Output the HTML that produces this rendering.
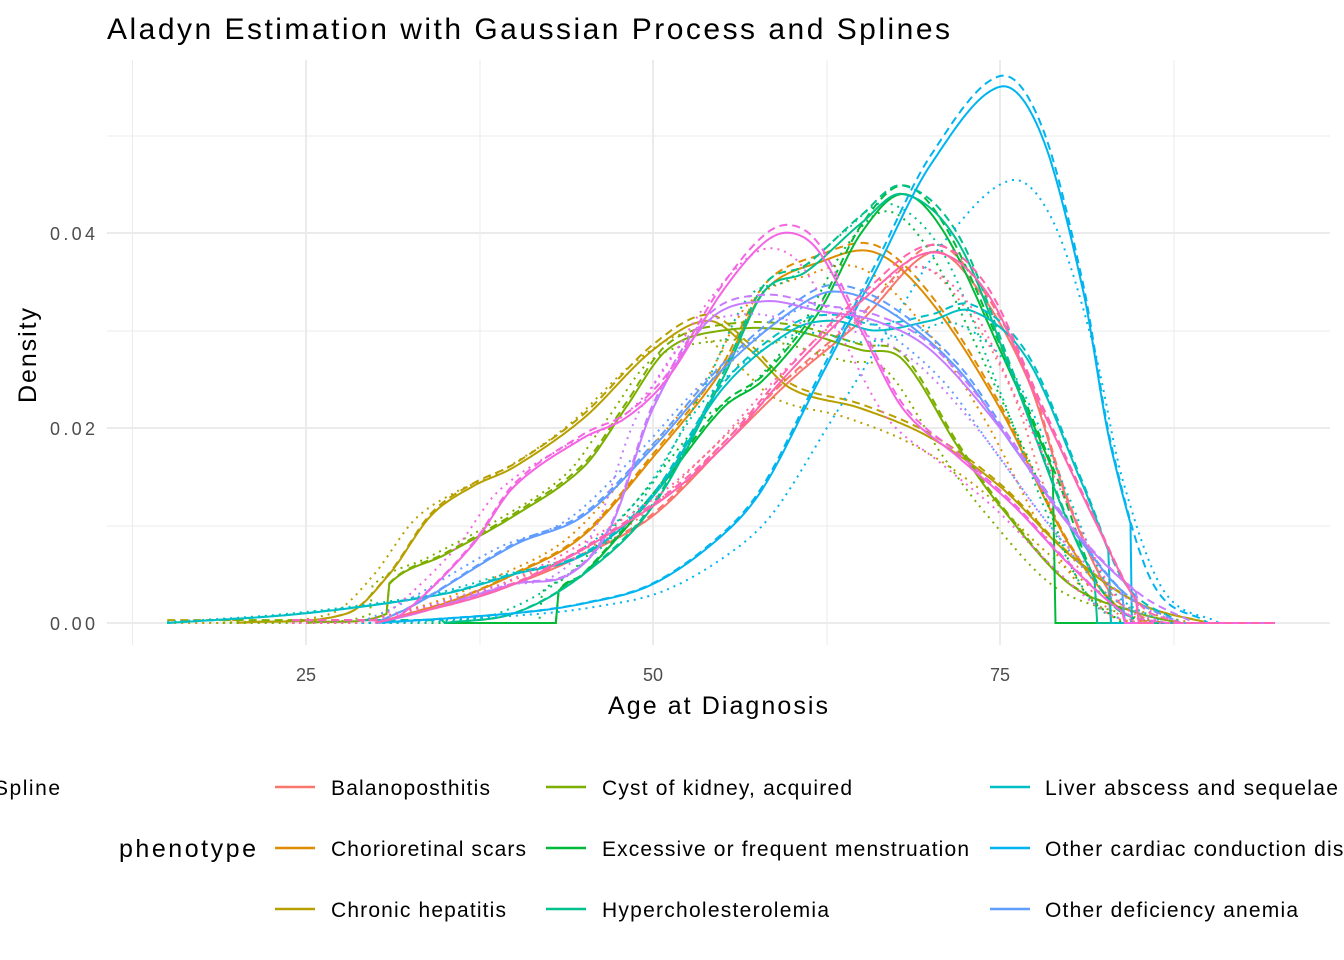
<!DOCTYPE html>
<html><head><meta charset="utf-8"><style>
html,body{margin:0;padding:0;background:#fff;}
svg{display:block;font-family:"Liberation Sans",Arial,sans-serif;}
</style></head><body>
<svg id="s" width="1344" height="960" viewBox="0 0 1344 960" xmlns="http://www.w3.org/2000/svg">
<rect width="1344" height="960" fill="#fff"/>
<g stroke="#ebebeb" stroke-width="1">
<line x1="107" x2="1330" y1="526" y2="526"/><line x1="107" x2="1330" y1="331" y2="331"/><line x1="107" x2="1330" y1="136" y2="136"/>
<line x1="132.5" x2="132.5" y1="60" y2="645"/><line x1="480" x2="480" y1="60" y2="645"/><line x1="827" x2="827" y1="60" y2="645"/><line x1="1174" x2="1174" y1="60" y2="645"/>
</g>
<g stroke="#ebebeb" stroke-width="2">
<line x1="107" x2="1330" y1="623" y2="623"/><line x1="107" x2="1330" y1="428" y2="428"/><line x1="107" x2="1330" y1="233" y2="233"/>
<line x1="306" x2="306" y1="60" y2="645"/><line x1="653" x2="653" y1="60" y2="645"/><line x1="1000" x2="1000" y1="60" y2="645"/>
</g>
<g id="curves" fill="none" stroke-width="2"></g>
<g font-size="18" fill="#4d4d4d" text-anchor="end">
<text x="95" y="630" textLength="45">0.00</text><text x="95" y="435" textLength="45">0.02</text><text x="95" y="240" textLength="45">0.04</text>
</g>
<g font-size="18" fill="#4d4d4d" text-anchor="middle">
<text x="306" y="681">25</text><text x="653" y="681">50</text><text x="1000" y="681">75</text>
</g>
<text x="608" y="714" font-size="25" textLength="220">Age at Diagnosis</text>
<text transform="translate(36,403) rotate(-90)" font-size="25" textLength="95">Density</text>
<text x="107" y="39" font-size="30" textLength="843">Aladyn Estimation with Gaussian Process and Splines</text>
<text x="-6" y="795" font-size="21" textLength="66">Spline</text>
<text x="119" y="857" font-size="25" textLength="137">phenotype</text>
<g stroke-width="2.5">
<line x1="275" x2="315" y1="787" y2="787" stroke="#F8766D"/>
<line x1="275" x2="315" y1="848" y2="848" stroke="#DE8C00"/>
<line x1="275" x2="315" y1="909" y2="909" stroke="#B79F00"/>
<line x1="546" x2="586" y1="787" y2="787" stroke="#7CAE00"/>
<line x1="546" x2="586" y1="848" y2="848" stroke="#00BA38"/>
<line x1="546" x2="586" y1="909" y2="909" stroke="#00C08B"/>
<line x1="990" x2="1030" y1="787" y2="787" stroke="#00BFC4"/>
<line x1="990" x2="1030" y1="848" y2="848" stroke="#00B4F0"/>
<line x1="990" x2="1030" y1="909" y2="909" stroke="#619CFF"/>
</g>
<g font-size="21">
<text x="331" y="795" textLength="159">Balanoposthitis</text>
<text x="331" y="856" textLength="195">Chorioretinal scars</text>
<text x="331" y="917" textLength="175">Chronic hepatitis</text>
<text x="602" y="795" textLength="250">Cyst of kidney, acquired</text>
<text x="602" y="856" textLength="367">Excessive or frequent menstruation</text>
<text x="602" y="917" textLength="227">Hypercholesterolemia</text>
<text x="1045" y="795" textLength="545">Liver abscess and sequelae of chronic liver disease</text>
<text x="1045" y="856" textLength="365">Other cardiac conduction disorders</text>
<text x="1045" y="917" textLength="253">Other deficiency anemia</text>
</g>
</svg>
<script>
var X=function(a){return 306+(a-25)*13.88;},Y=function(d){return 623-d*9750;};
var S=[
["#F8766D",[[30,0],[35,.002],[40,.004],[45,.007],[50,.011],[55,.018],[60,.025],[65,.031],[70,.038],[73,.035],[77,.025],[80,.012],[83,.003],[86,0]],83,1,1.2],
["#DE8C00",[[30,0],[35,.002],[40,.005],[45,.009],[50,.017],[55,.026],[58,.034],[62,.037],[66,.038],[70,.033],[75,.022],[80,.008],[84,.001],[87,0]],84,1,1.2],
["#B79F00",[[20,0],[28,.001],[31,.005],[34,.011],[37,.014],[40,.016],[45,.021],[50,.028],[54,.031],[57,.028],[60,.024],[65,.022],[70,.019],[75,.014],[80,.007],[85,.002],[90,0]],90,1,1.2],
["#7CAE00",[[25,0],[30.9,.001],[31,.004],[35,.007],[40,.011],[45,.016],[48,.022],[51,.028],[55,.03],[60,.03],[65,.028],[68,.027],[72,.018],[75,.012],[80,.004],[85,.001],[88,0]],88,1,1.2],
["#00BA38",[[35,0],[43,0],[43.1,.003],[45,.005],[50,.013],[55,.022],[58,.025],[62,.032],[65,.04],[68,.044],[71,.04],[75,.028],[79,.015],[82,.004],[85,0]],79,1,1.2],
["#00C08B",[[35,0],[40,.001],[45,.005],[50,.012],[55,.025],[58,.034],[61,.036],[65,.041],[68,.044],[72,.039],[76,.025],[80,.01],[83,.002],[86,0]],82,1.02,1.2],
["#00BFC4",[[15,0],[25,.001],[35,.003],[40,.005],[45,.007],[50,.013],[55,.024],[60,.03],[63,.031],[66,.03],[70,.031],[73,.032],[77,.027],[81,.014],[84,.004],[88,0]],83,1,1.2],
["#00B4F0",[[30,0],[40,.001],[45,.002],[50,.004],[55,.009],[58,.014],[62,.025],[66,.036],[70,.047],[75,.055],[78,.05],[81,.034],[83,.018],[86,.004],[90,0]],84.5,.86,-0.8],
["#619CFF",[[30,0],[33,.002],[40,.008],[45,.011],[50,.018],[55,.026],[60,.032],[63,.034],[67,.032],[72,.026],[76,.018],[80,.01],[84,.003],[88,0]],84,1,1.2],
["#C77CFF",[[30,0],[33,.001],[40,.004],[44,.005],[47,.01],[50,.022],[54,.031],[58,.033],[62,.032],[66,.031],[70,.028],[75,.02],[80,.01],[85,.003],[89,0]],85,1,1.2],
["#F564E3",[[30,0],[32,.001],[37,.008],[40,.014],[45,.019],[48,.021],[51,.025],[55,.034],[58,.039],[60,.04],[62,.038],[65,.03],[68,.022],[72,.017],[76,.012],[80,.006],[84,.001],[87,0]],84,1,1.2],
["#FF64B0",[[30,0],[40,.004],[50,.012],[55,.018],[60,.026],[65,.033],[70,.038],[74,.034],[78,.022],[82,.01],[85,.002],[88,0]],85,1,1.2]];
function interp(P,x){
 if(x<=P[0][0])return 0; if(x>=P[P.length-1][0])return 0;
 for(var i=0;i<P.length-1;i++){if(x<=P[i+1][0]){
  var p0=P[Math.max(0,i-1)],p1=P[i],p2=P[i+1],p3=P[Math.min(P.length-1,i+2)];
  var h=p2[0]-p1[0],t=(x-p1[0])/h;
  var m1=(p2[1]-p0[1])/(p2[0]-p0[0]||1)*h,m2=(p3[1]-p1[1])/(p3[0]-p1[0]||1)*h;
  if(p2[0]-p1[0]<0.5){m1=0;m2=0;}
  var t2=t*t,t3=t2*t;
  var v=(2*t3-3*t2+1)*p1[1]+(t3-2*t2+t)*m1+(-2*t3+3*t2)*p2[1]+(t3-t2)*m2;
  return Math.max(0,v);}}
 return 0;}
var g=document.getElementById('curves'),h='';
S.forEach(function(s){
 var P=s[1],a=P[0][0],e=s[2],p='',q='',r='';
 for(var x=a;x<=e;x+=0.2){p+=(p?'L':'M')+X(x).toFixed(1)+','+Y(interp(P,x)).toFixed(1);}
 p+='L'+X(e).toFixed(1)+','+Y(0)+'L'+X(Math.max(e+1,86)).toFixed(1)+','+Y(0);
 var lo=Math.max(15,a-6);
 for(var x=lo;x<=95;x+=0.2){
  q+=(q?'L':'M')+X(x).toFixed(1)+','+Y(interp(P,x)*1.02+ (x<a?0.0003:0)).toFixed(1);
  r+=(r?'L':'M')+X(x).toFixed(1)+','+Y(interp(P,x+s[4])*0.96*s[3]).toFixed(1);}
 h+='<path d="'+p+'" stroke="'+s[0]+'"/><path d="'+q+'" stroke="'+s[0]+'" stroke-dasharray="8,5"/><path d="'+r+'" stroke="'+s[0]+'" stroke-dasharray="2,5"/>';
});
g.innerHTML=h;
</script>
</body></html>
